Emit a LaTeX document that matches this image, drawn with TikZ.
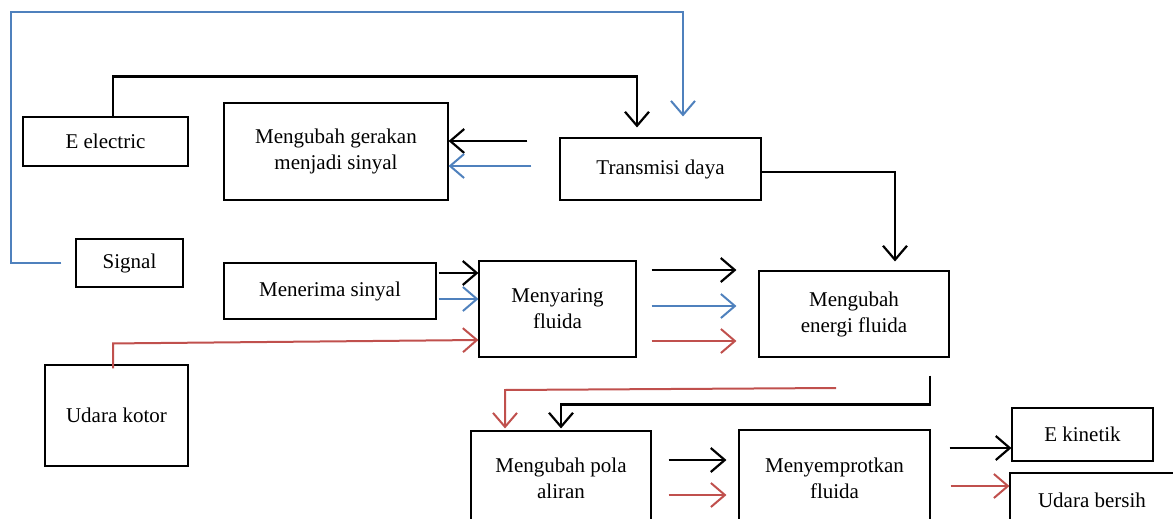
\documentclass[tikz,border=0pt]{standalone}
\usepackage{fontspec}
\setmainfont{Liberation Serif}
\usetikzlibrary{arrows.meta}
\definecolor{lineblue}{RGB}{79,129,189}
\definecolor{linered}{RGB}{192,80,77}
\tikzset{
  box/.style={draw, line width=1.1pt, inner sep=0pt, align=center,
    font=\fontsize{21}{26}\selectfont},
  tip/.style={-{Straight Barb[length=14pt,width=24pt]}},
  blk/.style={black, line width=2.2pt, tip},
  blu/.style={lineblue, line width=2pt, tip},
  rd/.style={linered, line width=2pt, tip}
}
\begin{document}
\begin{tikzpicture}[x=1pt,y=-1pt]
    \useasboundingbox (0,0) rectangle (1173,519);
    % Boxes
    \node[box, minimum width=165pt, minimum height=49pt] (elec) at (105.5,141.5) {E electric};
    \node[box, minimum width=224pt, minimum height=97pt] (gerak) at (336,151.5) {Mengubah gerakan\\menjadi sinyal};
    \node[box, minimum width=201pt, minimum height=62pt] (trans) at (660.5,169) {Transmisi daya};
    \node[box, minimum width=107pt, minimum height=48pt] (signal) at (129.5,263) {Signal};
    \node[box, minimum width=212pt, minimum height=56pt] (terima) at (330,291) {Menerima sinyal};
    \node[box, minimum width=157pt, minimum height=96pt] (saring) at (557.5,309) {Menyaring\\fluida};
    \node[box, minimum width=190pt, minimum height=86pt] (energi) at (854,314) {Mengubah\\energi fluida};
    \node[box, minimum width=143pt, minimum height=101pt] (kotor) at (116.5,415.5) {Udara kotor};
    \node[box, minimum width=180pt, minimum height=94pt] (pola) at (561,478) {Mengubah pola\\aliran};
    \node[box, minimum width=191pt, minimum height=96pt] (semprot) at (834.5,478) {Menyemprotkan\\fluida};
    \node[box, minimum width=141pt, minimum height=53pt] (kinetik) at (1082.5,434.5) {E kinetik};
    \node[box, minimum width=164pt, minimum height=54pt] (bersih) at (1092,500) {Udara bersih};

    % Top loops
    \draw[blk, shorten >=10pt] ([xshift=7.5pt]elec.north) -- ++(0,-40) -| ([xshift=-23.5pt]trans.north);
    \coordinate (bl) at (11,12); \coordinate (br) at (683,12);
    \draw[blu, shorten <=14pt, shorten >=21pt] (signal.west) -| (bl) -- (br) -- ([xshift=22.5pt]trans.north);

    % Transmisi daya outputs
    \draw[blk, shorten <=32pt] ([yshift=28pt]trans.west) -- ([yshift=28pt]trans.west -| gerak.east);
    \draw[blu, shorten <=28pt] ([yshift=3pt]trans.west) -- ([yshift=3pt]trans.west -| gerak.east);
    \draw[blk, shorten >=9pt] ([yshift=-3pt]trans.east) -| ([xshift=41pt]energi.north);

    % Into Menyaring fluida
    \draw[blk, shorten <=2pt] ([yshift=18pt]terima.east) -- ([yshift=18pt]terima.east -| saring.west);
    \draw[blu, shorten <=2pt] ([yshift=-8pt]terima.east) -- ([yshift=-8pt]terima.east -| saring.west);
    \draw[rd, shorten <=-4pt] ([xshift=-3.5pt]kotor.north) -- ++(0,-21) -- ([yshift=-31pt]saring.west);

    % Menyaring -> Mengubah energi
    \draw[blk, shorten <=15pt, shorten >=22pt] ([yshift=39pt]saring.east) -- ([yshift=39pt]saring.east -| energi.west);
    \draw[blu, shorten <=15pt, shorten >=22pt] ([yshift=3pt]saring.east) -- ([yshift=3pt]saring.east -| energi.west);
    \draw[rd, shorten <=15pt, shorten >=22pt] ([yshift=-32pt]saring.east) -- ([yshift=-32pt]saring.east -| energi.west);

    % Down to Mengubah pola aliran
    \draw[blk, shorten <=18pt, shorten >=2pt] ([xshift=76pt]energi.south) -- ++(0,47) -| (pola.north);
    \coordinate (rs) at (836,388);
    \draw[rd, shorten >=2pt] (rs) -- ++(-331,2) -- ([xshift=-56pt]pola.north);

    % Pola -> Menyemprotkan
    \draw[blk, shorten <=17pt, shorten >=12pt] ([yshift=18pt]pola.east) -- ([yshift=18pt]pola.east -| semprot.west);
    \draw[rd, shorten <=17pt, shorten >=12pt] ([yshift=-17pt]pola.east) -- ([yshift=-17pt]pola.east -| semprot.west);

    % Outputs
    \draw[blk, shorten <=19pt] ([yshift=30pt]semprot.east) -- ([yshift=30pt]semprot.east -| kinetik.west);
    \draw[rd, shorten <=20pt] ([yshift=-8pt]semprot.east) -- ([yshift=-8pt]semprot.east -| bersih.west);
\end{tikzpicture}
\end{document}
